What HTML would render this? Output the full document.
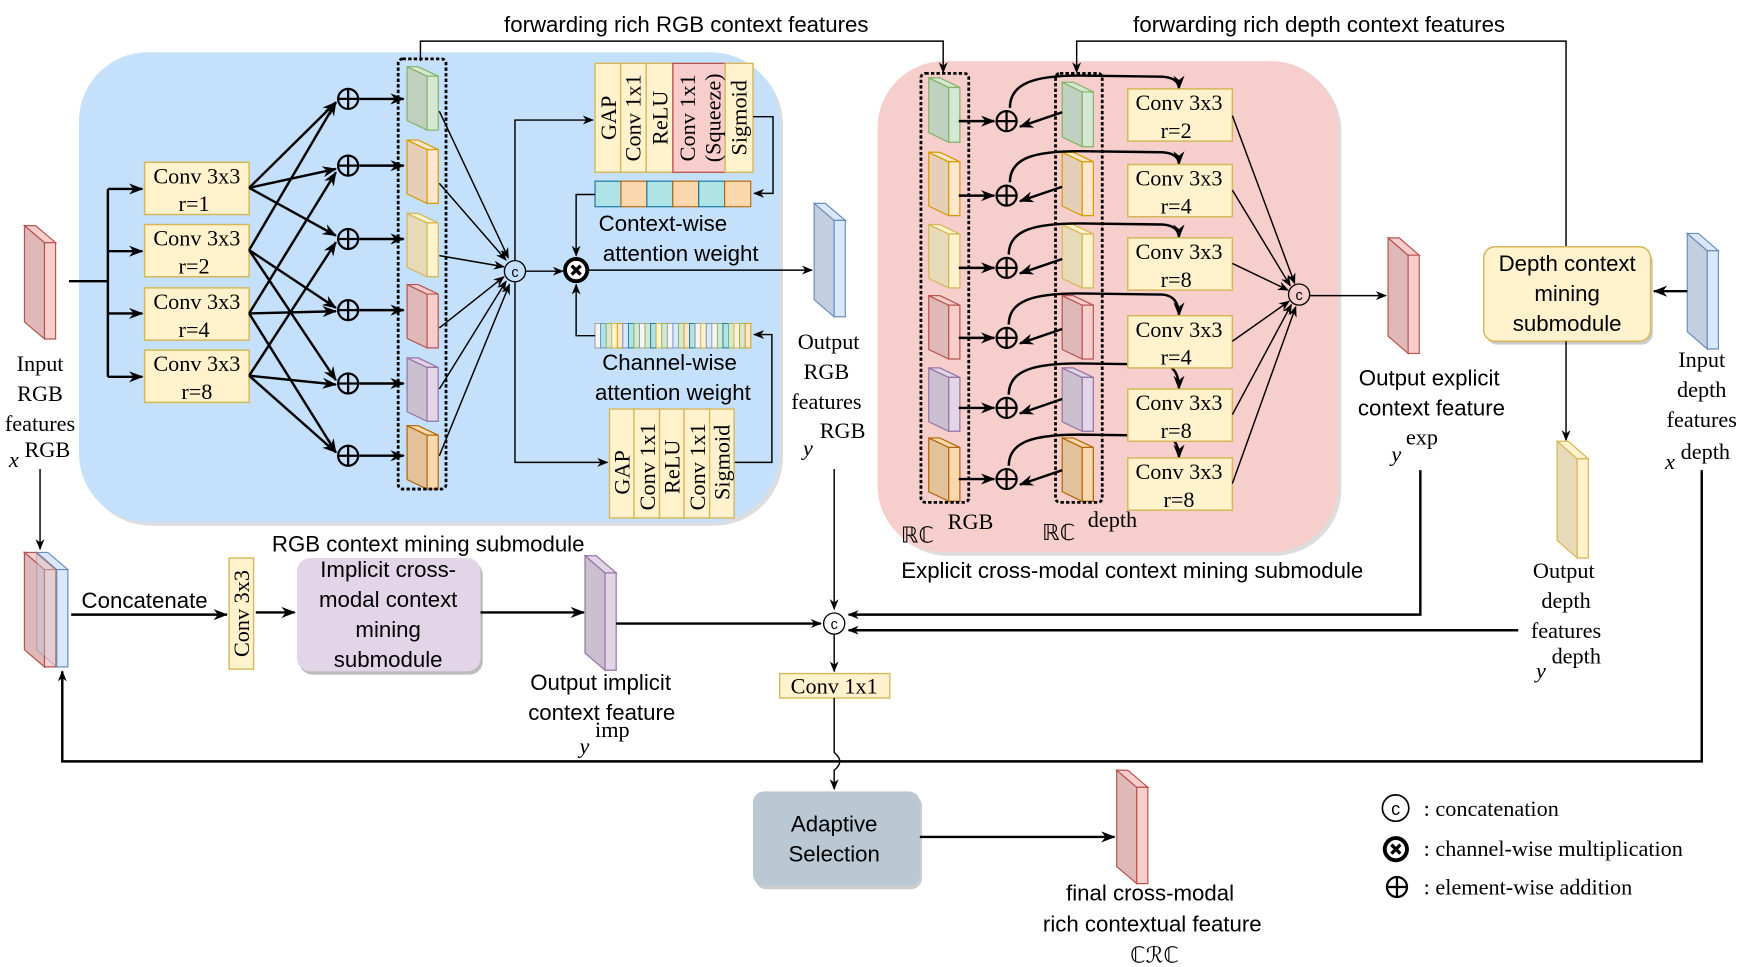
<!DOCTYPE html>
<html><head><meta charset="utf-8"><style>
html,body{margin:0;padding:0;background:#fff;}
svg{display:block;}
.sr{font-family:"Liberation Serif",serif;font-size:20px;fill:#000;}
.ss{font-family:"Liberation Sans",sans-serif;font-size:20px;fill:#000;}
.l{stroke:#000;fill:none;stroke-width:1.3;}
.t{stroke:#000;fill:none;stroke-width:2.2;}
</style></head><body>
<svg width="1744" height="967" viewBox="0 0 1568 870" preserveAspectRatio="none" xmlns="http://www.w3.org/2000/svg">
<defs>
<marker id="a" markerWidth="10" markerHeight="8" refX="9" refY="4" orient="auto" markerUnits="userSpaceOnUse"><path d="M0,0 L10,4 L0,8 L3,4 z" fill="#000"/></marker>
<marker id="b" markerWidth="13" markerHeight="10" refX="12" refY="5" orient="auto" markerUnits="userSpaceOnUse"><path d="M0,0 L13,5 L0,10 L4,5 z" fill="#000"/></marker>
<symbol id="pr" overflow="visible">
<path d="M0,0 L18,15 L18,100 L0,85 Z" style="fill:var(--s);stroke:var(--k)" stroke-width="1.2" vector-effect="non-scaling-stroke"/>
<path d="M0,0 L10,0 L28,15 L18,15 Z" style="fill:var(--f);stroke:var(--k)" stroke-width="1.2" vector-effect="non-scaling-stroke"/>
<rect x="18" y="15" width="10" height="85" style="fill:var(--f);stroke:var(--k)" stroke-width="1.2" vector-effect="non-scaling-stroke"/>
</symbol>
<symbol id="pl" overflow="visible"><circle cx="0" cy="0" r="9" fill="none" stroke="#000" stroke-width="2"/><path d="M-9,0H9M0,-9V9" stroke="#000" stroke-width="2"/></symbol>
<symbol id="cc" overflow="visible"><circle cx="0" cy="0" r="9.5" fill="#fff" fill-opacity="0" stroke="#000" stroke-width="1.2"/><text x="0" y="5" text-anchor="middle" font-family="Liberation Sans,sans-serif" font-size="13">c</text></symbol>
<symbol id="mx" overflow="visible"><circle cx="0" cy="0" r="10" fill="#fff" stroke="#000" stroke-width="3.5"/><path d="M-4,-4L4,4M4,-4L-4,4" stroke="#000" stroke-width="3"/></symbol>
</defs>
<style>
.R{--f:#f8cecc;--s:#dfb8b8;--k:#b85450}
.B{--f:#dae8fc;--s:#c3cfe0;--k:#6c8ebf}
.G{--f:#d5e8d4;--s:#c0d1bf;--k:#82b366}
.O{--f:#ffe6cc;--s:#e6cfb8;--k:#d79b00}
.Y{--f:#fff2cc;--s:#e6dab8;--k:#d6b656}
.P{--f:#e1d5e7;--s:#cbc0d0;--k:#9673a6}
.D{--f:#fad7ac;--s:#e1c29b;--k:#b46504}
</style>

<!-- background panels -->
<rect x="74" y="50" width="630" height="423" rx="62" fill="#bbb" opacity="0.5"/>
<rect x="71" y="47" width="630" height="423" rx="62" fill="#c4e0fb"/>
<rect x="792" y="58" width="414" height="442" rx="60" fill="#bbb" opacity="0.5"/>
<rect x="789" y="55" width="414" height="442" rx="60" fill="#f6cecc"/>

<!-- top forwarding lines -->
<text class="ss" x="617" y="29" text-anchor="middle">forwarding rich RGB context features</text>
<text class="ss" x="1186" y="29" text-anchor="middle">forwarding rich depth context features</text>
<path class="l" d="M378,55 V37 H848 V65" marker-end="url(#a)"/>
<path class="l" d="M1408,222 V37 H968 V65" marker-end="url(#a)"/>

<!-- Input RGB -->
<use href="#pr" class="R" transform="translate(22,203) scale(1,1.02)"/>
<text class="sr" text-anchor="middle"><tspan x="36" y="334">Input</tspan><tspan x="36" y="361">RGB</tspan><tspan x="36" y="388">features</tspan></text>
<text class="sr" x="8" y="420" font-style="italic" font-size="24">x</text><text class="sr" x="22" y="411" font-size="17">RGB</text>

<!-- input fan -->
<path class="t" d="M62,253 H97 M97,170 V339"/>
<path class="t" d="M97,170 H128" marker-end="url(#b)"/>
<path class="t" d="M97,226 H128" marker-end="url(#b)"/>
<path class="t" d="M97,282 H128" marker-end="url(#b)"/>
<path class="t" d="M97,339 H128" marker-end="url(#b)"/>

<g fill="#fff2cc" stroke="#d6b656" stroke-width="1.3">
<rect x="130" y="146" width="94" height="47"/><rect x="130" y="202" width="94" height="47"/>
<rect x="130" y="259" width="94" height="47"/><rect x="130" y="315" width="94" height="47"/>
</g>
<text class="sr" text-anchor="middle"><tspan x="177" y="165">Conv 3x3</tspan><tspan x="177" y="190">r=1</tspan>
<tspan x="177" y="221">Conv 3x3</tspan><tspan x="177" y="246">r=2</tspan>
<tspan x="177" y="278">Conv 3x3</tspan><tspan x="177" y="303">r=4</tspan>
<tspan x="177" y="334">Conv 3x3</tspan><tspan x="177" y="359">r=8</tspan></text>

<!-- fan to pluses -->
<g class="t" marker-end="url(#b)">
<path d="M224,169 L302,92"/><path d="M224,169 L302,152"/><path d="M224,169 L302,212"/>
<path d="M224,225 L302,92"/><path d="M224,225 L302,277"/><path d="M224,225 L302,342"/>
<path d="M224,282 L302,155"/><path d="M224,282 L302,280"/><path d="M224,282 L302,407"/>
<path d="M224,338 L302,218"/><path d="M224,338 L302,346"/><path d="M224,338 L302,407"/>
</g>
<use href="#pl" x="313" y="89"/><use href="#pl" x="313" y="149"/><use href="#pl" x="313" y="215"/>
<use href="#pl" x="313" y="279"/><use href="#pl" x="313" y="345"/><use href="#pl" x="313" y="410"/>
<g class="t" marker-end="url(#b)">
<path d="M323,89 H363"/><path d="M323,149 H363"/><path d="M323,215 H363"/>
<path d="M323,279 H363"/><path d="M323,345 H363"/><path d="M323,410 H363"/>
</g>

<!-- RGB prisms -->
<use href="#pr" class="G" transform="translate(366,60) scale(1,0.57)"/>
<use href="#pr" class="O" transform="translate(366,126) scale(1,0.57)"/>
<use href="#pr" class="Y" transform="translate(366,192) scale(1,0.57)"/>
<use href="#pr" class="R" transform="translate(366,256) scale(1,0.57)"/>
<use href="#pr" class="P" transform="translate(366,322) scale(1,0.57)"/>
<use href="#pr" class="D" transform="translate(366,383) scale(1,0.57)"/>
<rect x="358" y="53" width="43" height="387" rx="4" fill="none" stroke="#000" stroke-width="2.5" stroke-dasharray="3,2"/>

<!-- to concat -->
<g class="l" marker-end="url(#a)">
<path d="M395,100 L457,232"/><path d="M395,165 L455,234"/><path d="M395,230 L453,240"/>
<path d="M395,295 L453,249"/><path d="M395,350 L455,253"/><path d="M395,410 L458,256"/>
</g>
<use href="#cc" x="463" y="244"/>
<path class="l" d="M473,244 H506" marker-end="url(#a)"/>
<use href="#mx" x="518" y="243"/>
<path class="l" d="M529,243 H730" marker-end="url(#a)"/>
<path class="l" d="M463,234 V108 H533" marker-end="url(#a)"/>
<path class="l" d="M463,254 V416 H546" marker-end="url(#a)"/>

<!-- upper stack -->
<g stroke="#d6b656" stroke-width="1.2" fill="#fff2cc">
<rect x="535" y="57" width="23" height="98"/><rect x="558" y="57" width="23" height="98"/><rect x="581" y="57" width="24" height="98"/>
<rect x="605" y="57" width="47" height="98" fill="#f8cecc" stroke="#b85450"/><rect x="652" y="57" width="25" height="98"/>
</g>
<g class="sr">
<text transform="translate(554,106) rotate(-90)" text-anchor="middle">GAP</text>
<text transform="translate(576,106) rotate(-90)" text-anchor="middle">Conv 1x1</text>
<text transform="translate(600,106) rotate(-90)" text-anchor="middle">ReLU</text>
<text transform="translate(625,106) rotate(-90)" text-anchor="middle">Conv 1x1</text>
<text transform="translate(648,106) rotate(-90)" text-anchor="middle">(Squeeze)</text>
<text transform="translate(671,106) rotate(-90)" text-anchor="middle">Sigmoid</text>
</g>
<path class="l" d="M677,105 H695 V174 H678" marker-end="url(#a)"/>
<g stroke="#10739e" stroke-width="1">
<rect x="535" y="163" width="23.3" height="23" fill="#b0e3e6"/><rect x="558.3" y="163" width="23.3" height="23" fill="#fad7ac" stroke="#b46504"/>
<rect x="581.6" y="163" width="23.3" height="23" fill="#b0e3e6"/><rect x="604.9" y="163" width="23.3" height="23" fill="#fad7ac" stroke="#b46504"/>
<rect x="628.2" y="163" width="23.3" height="23" fill="#b0e3e6"/><rect x="651.5" y="163" width="23.5" height="23" fill="#fad7ac" stroke="#b46504"/>
</g>
<path class="l" d="M535,175 H518 V230" marker-end="url(#a)"/>
<text class="ss" x="596" y="208" text-anchor="middle">Context-wise</text>
<text class="ss" x="612" y="235" text-anchor="middle">attention weight</text>

<!-- channel bar -->
<g stroke-width="0.8">
<rect x="535" y="291" width="140" height="22" fill="#fff" stroke="#d6b656"/>
<rect x="535" y="291" width="5" height="22" fill="#f5f5f5" stroke="#999"/><rect x="540" y="291" width="5" height="22" fill="#b0e3e6" stroke="#6c8ebf"/>
<rect x="545" y="291" width="5" height="22" fill="#d5e8d4" stroke="#82b366"/><rect x="550" y="291" width="5" height="22" fill="#fff2cc" stroke="#d6b656"/>
<rect x="555" y="291" width="5" height="22" fill="#ffe6cc" stroke="#d79b00"/><rect x="560" y="291" width="5" height="22" fill="#dae8fc" stroke="#6c8ebf"/>
<rect x="565" y="291" width="5" height="22" fill="#b0e3e6" stroke="#10739e"/><rect x="570" y="291" width="5" height="22" fill="#d5e8d4" stroke="#82b366"/>
<rect x="575" y="291" width="5" height="22" fill="#f5f5f5" stroke="#999"/><rect x="580" y="291" width="5" height="22" fill="#d5e8d4" stroke="#82b366"/>
<rect x="585" y="291" width="5" height="22" fill="#b0e3e6" stroke="#10739e"/><rect x="590" y="291" width="5" height="22" fill="#fff2cc" stroke="#d6b656"/>
<rect x="595" y="291" width="5" height="22" fill="#d5e8d4" stroke="#82b366"/><rect x="600" y="291" width="5" height="22" fill="#f5f5f5" stroke="#999"/>
<rect x="605" y="291" width="5" height="22" fill="#dae8fc" stroke="#6c8ebf"/><rect x="610" y="291" width="5" height="22" fill="#d5e8d4" stroke="#82b366"/>
<rect x="615" y="291" width="5" height="22" fill="#ffe6cc" stroke="#d79b00"/><rect x="620" y="291" width="5" height="22" fill="#b0e3e6" stroke="#10739e"/>
<rect x="625" y="291" width="5" height="22" fill="#f5f5f5" stroke="#999"/><rect x="630" y="291" width="5" height="22" fill="#fff2cc" stroke="#d6b656"/>
<rect x="635" y="291" width="5" height="22" fill="#dae8fc" stroke="#6c8ebf"/><rect x="640" y="291" width="5" height="22" fill="#f5f5f5" stroke="#999"/>
<rect x="645" y="291" width="5" height="22" fill="#d5e8d4" stroke="#82b366"/><rect x="650" y="291" width="5" height="22" fill="#b0e3e6" stroke="#10739e"/>
<rect x="655" y="291" width="5" height="22" fill="#d5e8d4" stroke="#82b366"/><rect x="660" y="291" width="5" height="22" fill="#fff2cc" stroke="#d6b656"/>
<rect x="665" y="291" width="5" height="22" fill="#d5e8d4" stroke="#82b366"/><rect x="670" y="291" width="5" height="22" fill="#ffe6cc" stroke="#d79b00"/>
</g>
<path class="l" d="M535,302 H518 V256" marker-end="url(#a)"/>
<path class="l" d="M660,416 H694 V301 H678" marker-end="url(#a)"/>
<text class="ss" x="602" y="333" text-anchor="middle">Channel-wise</text>
<text class="ss" x="605" y="360" text-anchor="middle">attention weight</text>

<!-- lower stack -->
<g stroke="#d6b656" stroke-width="1.2" fill="#fff2cc">
<rect x="548" y="368" width="22" height="98"/><rect x="570" y="368" width="23" height="98"/><rect x="593" y="368" width="22" height="98"/>
<rect x="615" y="368" width="23" height="98"/><rect x="638" y="368" width="22" height="98"/>
</g>
<g class="sr">
<text transform="translate(566,425) rotate(-90)" text-anchor="middle">GAP</text>
<text transform="translate(589,420) rotate(-90)" text-anchor="middle">Conv 1x1</text>
<text transform="translate(611,420) rotate(-90)" text-anchor="middle">ReLU</text>
<text transform="translate(634,420) rotate(-90)" text-anchor="middle">Conv 1x1</text>
<text transform="translate(656,416) rotate(-90)" text-anchor="middle">Sigmoid</text>
</g>

<!-- output RGB -->
<use href="#pr" class="B" transform="translate(732,183) scale(1,1.02)"/>
<text class="sr" text-anchor="middle"><tspan x="745" y="314">Output</tspan><tspan x="743" y="341">RGB</tspan><tspan x="743" y="368">features</tspan></text>
<text class="sr" x="722" y="410" font-style="italic" font-size="24">y</text><text class="sr" x="737" y="394" font-size="17">RGB</text>
<text class="ss" x="385" y="496" text-anchor="middle">RGB context mining submodule</text>

<!-- pink module -->
<use href="#pr" class="G" transform="translate(835,70) scale(1,0.58)"/>
<use href="#pr" class="O" transform="translate(835,137) scale(1,0.57)"/>
<use href="#pr" class="Y" transform="translate(835,202) scale(1,0.57)"/>
<use href="#pr" class="R" transform="translate(835,266) scale(1,0.57)"/>
<use href="#pr" class="P" transform="translate(835,331) scale(1,0.57)"/>
<use href="#pr" class="D" transform="translate(835,394) scale(1,0.57)"/>
<rect x="828" y="66" width="43" height="386" rx="4" fill="none" stroke="#000" stroke-width="2.5" stroke-dasharray="3,2"/>
<use href="#pr" class="G" transform="translate(955,74) scale(1,0.58)"/>
<use href="#pr" class="O" transform="translate(955,137) scale(1,0.57)"/>
<use href="#pr" class="Y" transform="translate(955,202) scale(1,0.57)"/>
<use href="#pr" class="R" transform="translate(955,266) scale(1,0.57)"/>
<use href="#pr" class="P" transform="translate(955,331) scale(1,0.57)"/>
<use href="#pr" class="D" transform="translate(955,394) scale(1,0.57)"/>
<rect x="949" y="66" width="42" height="386" rx="4" fill="none" stroke="#000" stroke-width="2.5" stroke-dasharray="3,2"/>

<use href="#pl" x="905" y="109"/><use href="#pl" x="905" y="176"/><use href="#pl" x="905" y="241"/>
<use href="#pl" x="905" y="304"/><use href="#pl" x="905" y="367"/><use href="#pl" x="905" y="431"/>
<g class="t" marker-end="url(#b)">
<path d="M862,109 H894"/><path d="M862,176 H894"/><path d="M862,241 H894"/>
<path d="M862,304 H894"/><path d="M862,367 H894"/><path d="M862,431 H894"/>
<path d="M955,101 L917,114"/><path d="M955,168 L917,181"/><path d="M955,233 L917,246"/>
<path d="M955,296 L917,309"/><path d="M955,359 L917,372"/><path d="M955,423 L917,436"/>
<path d="M908,97 C908,75 930,68 970,68 L1045,69 Q1060,70 1060,80"/>
<path d="M908,164 C908,142 930,136 970,136 L1045,137 Q1060,138 1060,148"/>
<path d="M907,229 C907,207 930,201 970,201 L1045,202 Q1060,203 1060,214"/>
<path d="M907,292 C907,270 930,264 970,264 L1045,265 Q1060,266 1060,284"/>
<path d="M907,355 C907,333 930,327 970,327 L1045,328 Q1060,329 1060,350"/>
<path d="M907,419 C907,397 930,391 970,391 L1045,392 Q1060,393 1060,412"/>
</g>
<g fill="#fff2cc" stroke="#d6b656" stroke-width="1.3">
<rect x="1014" y="80" width="94" height="47"/><rect x="1014" y="148" width="94" height="47"/>
<rect x="1014" y="214" width="94" height="47"/><rect x="1014" y="284" width="94" height="47"/>
<rect x="1014" y="350" width="94" height="47"/><rect x="1014" y="412" width="94" height="47"/>
</g>
<text class="sr" text-anchor="middle"><tspan x="1060" y="99">Conv 3x3</tspan><tspan x="1060" y="124">r=2</tspan>
<tspan x="1060" y="167">Conv 3x3</tspan><tspan x="1060" y="192">r=4</tspan>
<tspan x="1060" y="233">Conv 3x3</tspan><tspan x="1060" y="258">r=8</tspan>
<tspan x="1060" y="303">Conv 3x3</tspan><tspan x="1060" y="328">r=4</tspan>
<tspan x="1060" y="369">Conv 3x3</tspan><tspan x="1060" y="394">r=8</tspan>
<tspan x="1060" y="431">Conv 3x3</tspan><tspan x="1060" y="456">r=8</tspan></text>
<g class="l" marker-end="url(#a)">
<path d="M1108,104 L1164,255"/><path d="M1108,171 L1160,257"/><path d="M1108,237 L1158,261"/>
<path d="M1108,307 L1159,271"/><path d="M1108,373 L1161,274"/><path d="M1108,435 L1165,276"/>
</g>
<use href="#cc" x="1168" y="265"/>
<path class="l" d="M1178,266 H1246" marker-end="url(#a)"/>
<use href="#pr" class="R" transform="translate(1248,214) scale(1,1.04)"/>
<text class="ss" x="1285" y="347" text-anchor="middle">Output explicit</text>
<text class="ss" x="1287" y="374" text-anchor="middle">context feature</text>
<text class="sr" x="1251" y="415" font-style="italic" font-size="24">y</text><text class="sr" x="1264" y="400" font-size="17">exp</text>
<text class="sr" x="810" y="488" font-size="24">ℝℂ</text><text class="sr" x="852" y="476" font-size="17">RGB</text>
<text class="sr" x="937" y="486" font-size="24">ℝℂ</text><text class="sr" x="978" y="474" font-size="17">depth</text>
<text class="ss" x="1018" y="520" text-anchor="middle">Explicit cross-modal context mining submodule</text>

<!-- depth -->
<rect x="1336" y="225" width="150" height="85" rx="10" fill="#ccc"/>
<rect x="1334" y="222" width="150" height="85" rx="10" fill="#fff2cc" stroke="#d6b656" stroke-width="1.3"/>
<text class="ss" text-anchor="middle"><tspan x="1409" y="244">Depth context</tspan><tspan x="1409" y="271">mining</tspan><tspan x="1409" y="298">submodule</tspan></text>
<use href="#pr" class="B" transform="translate(1517,210) scale(1,1.04)"/>
<path class="t" d="M1517,262 H1487" marker-end="url(#b)"/>
<text class="sr" text-anchor="middle"><tspan x="1530" y="330">Input</tspan><tspan x="1530" y="357">depth</tspan><tspan x="1530" y="384">features</tspan></text>
<text class="sr" x="1497" y="422" font-style="italic" font-size="24">x</text><text class="sr" x="1511" y="413" font-size="17">depth</text>
<path class="l" d="M1408,307 V396" marker-end="url(#a)"/>
<use href="#pr" class="Y" transform="translate(1400,397) scale(1,1.05)"/>
<text class="sr" text-anchor="middle"><tspan x="1406" y="520">Output</tspan><tspan x="1408" y="547">depth</tspan><tspan x="1408" y="574">features</tspan></text>
<text class="sr" x="1381" y="610" font-style="italic" font-size="24">y</text><text class="sr" x="1395" y="597" font-size="17">depth</text>

<!-- bottom flow -->
<path class="l" d="M36,422 V494" marker-end="url(#a)"/>
<use href="#pr" class="R" transform="translate(22,497) scale(1,1.03)"/>
<use href="#pr" class="B" transform="translate(33,497) scale(1,1.03)"/>
<use href="#pr" class="R" transform="translate(22,497) scale(1,1.03)" opacity="0.6"/>
<text class="ss" x="130" y="547" text-anchor="middle">Concatenate</text>
<path class="t" d="M64,553 H204" marker-end="url(#b)"/>
<rect x="206" y="502" width="22" height="100" fill="#fff2cc" stroke="#d6b656" stroke-width="1.2"/>
<text class="sr" transform="translate(224,552) rotate(-90)" text-anchor="middle">Conv 3x3</text>
<path class="t" d="M230,551 H265" marker-end="url(#b)"/>
<rect x="269" y="505" width="165" height="102" rx="12" fill="#bbb"/>
<rect x="267" y="502" width="165" height="102" rx="12" fill="#e1d5e7"/>
<text class="ss" text-anchor="middle"><tspan x="349" y="519">Implicit cross-</tspan><tspan x="349" y="546">modal context</tspan><tspan x="349" y="573">mining</tspan><tspan x="349" y="600">submodule</tspan></text>
<path class="t" d="M432,551 H525" marker-end="url(#b)"/>
<use href="#pr" class="P" transform="translate(526,500) scale(1,1.03)"/>
<path class="t" d="M554,561 H738" marker-end="url(#a)"/>
<text class="ss" x="540" y="621" text-anchor="middle">Output implicit</text>
<text class="ss" x="541" y="648" text-anchor="middle">context feature</text>
<text class="sr" x="521" y="678" font-style="italic" font-size="24">y</text><text class="sr" x="535" y="663" font-size="17">imp</text>

<path class="l" d="M750,422 V548" marker-end="url(#a)"/>
<use href="#cc" x="750" y="561"/>
<path class="t" d="M1277,423 V553 H763" marker-end="url(#a)"/>
<path class="t" d="M1365,567 H763" marker-end="url(#a)"/>
<path class="l" d="M750,571 V604" marker-end="url(#a)"/>
<rect x="701" y="606" width="99" height="22" fill="#fff2cc" stroke="#d6b656" stroke-width="1.2"/>
<text class="sr" x="750" y="624" text-anchor="middle">Conv 1x1</text>
<path class="l" d="M750,628 V677 Q760,685 750,693 V710" marker-end="url(#a)"/>
<path class="t" d="M1530,423 V685 H56 V604" marker-end="url(#a)"/>

<rect x="679" y="715" width="150" height="85" rx="10" fill="#ccc"/>
<rect x="677" y="712" width="150" height="85" rx="10" fill="#bac8d3"/>
<text class="ss" text-anchor="middle"><tspan x="750" y="748">Adaptive</tspan><tspan x="750" y="775">Selection</tspan></text>
<path class="t" d="M827,753 H1002" marker-end="url(#b)"/>
<use href="#pr" class="R" transform="translate(1004,693) scale(1,1.02)"/>
<text class="ss" text-anchor="middle"><tspan x="1034" y="810">final cross-modal</tspan><tspan x="1036" y="838">rich contextual feature</tspan></text>
<text class="sr" x="1038" y="866" text-anchor="middle" font-size="24">ℂℛℂ</text>

<!-- legend -->
<use href="#cc" x="1255" y="727" transform="translate(-314,-181.75) scale(1.25)"/>
<text class="sr" x="1280" y="734">: concatenation</text>
<use href="#mx" x="1255" y="764"/>
<text class="sr" x="1280" y="770">: channel-wise multiplication</text>
<use href="#pl" x="1256" y="798"/>
<text class="sr" x="1280" y="805">: element-wise addition</text>
</svg>
</body></html>
